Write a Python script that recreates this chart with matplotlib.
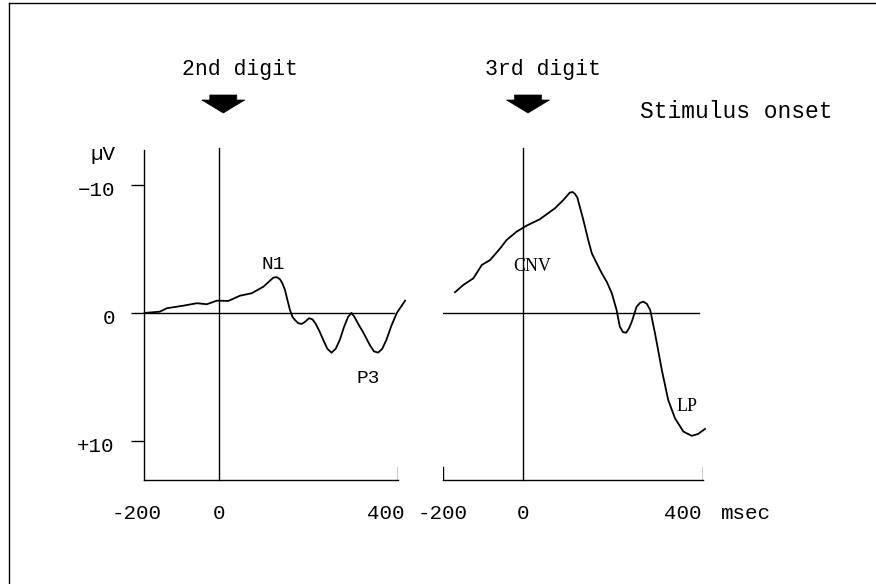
import matplotlib
matplotlib.use('Agg')
import matplotlib.pyplot as plt
from matplotlib.transforms import blended_transform_factory, ScaledTranslation
from matplotlib.patches import Polygon
from matplotlib.lines import Line2D

# ---------------- data ----------------
t_2nd = [-180, -143, -126, -86, -54, -30, -6, 22, 50, 78, 106, 118, 130, 138, 146,
         152, 158, 164, 170, 176, 182, 190, 198, 206, 216, 224, 232, 242, 250, 260,
         270, 280, 290, 300, 310, 318, 325, 335, 346, 354, 362, 372, 382, 392, 402,
         414, 427, 447]
v_2nd = [0.0, -0.1, -0.37, -0.57, -0.76, -0.68, -0.96, -0.94, -1.35, -1.54, -2.05,
         -2.4, -2.76, -2.8, -2.63, -2.3, -1.8, -1.0, -0.23, 0.3, 0.55, 0.8, 0.86,
         0.7, 0.41, 0.5, 0.85, 1.5, 2.1, 2.8, 3.1, 2.8, 2.1, 1.1, 0.3, 0.0, 0.3,
         0.9, 1.5, 2.0, 2.5, 3.0, 3.1, 2.8, 2.1, 1.0, 0.0, -0.96]

t_3rd = [-170, -149, -124, -103, -82, -57, -41, -16, 9, 42, 80, 101, 117, 124, 130,
         136, 142, 148, 155, 163, 172, 184, 197, 210, 222, 234, 242, 250, 258, 265,
         272, 284, 293, 301, 310, 318, 330, 347, 363, 380, 401, 422, 438, 455]
v_3rd = [-1.62, -2.19, -2.71, -3.75, -4.14, -5.05, -5.70, -6.35, -6.82, -7.32,
         -8.18, -8.83, -9.40, -9.45, -9.30, -9.0, -8.30, -7.6, -6.74, -5.7, -4.66,
         -3.9, -3.1, -2.4, -1.54, -0.23, 1.07, 1.5, 1.54, 1.2, 0.68, -0.49, -0.8,
         -0.88, -0.7, -0.23, 1.59, 4.45, 6.8, 8.23, 9.27, 9.6, 9.45, 9.06]

x_ticks = [-200, 0, 400]
x_tick_labels = ['-200', '0', '400']
y_ticks = [-10, 0, 10]
y_tick_labels = ['\u221210', '0', '+10']
stim_labels = ['2nd digit', '3rd digit']
component_labels_2nd = ['N1', 'P3']
component_labels_3rd = ['CNV', 'LP']

# ---------------- layout ----------------
W, H = 876, 584
MONO = 'Liberation Mono'
SERIF = 'Liberation Serif'
fig = plt.figure(figsize=(W / 100, H / 100), dpi=100)
fig.patch.set_facecolor('white')


def rect(x0, x1, ytop, ybot):
    return [x0 / W, 1 - ybot / H, (x1 - x0) / W, (ybot - ytop) / H]


axL = fig.add_axes(rect(144, 398, 150, 480))
axR = fig.add_axes(rect(443, 703, 150, 480))

axL.set_xlim(-181.1, 429.9)
axR.set_xlim(-200, 450)
for ax in (axL, axR):
    ax.set_ylim(13.05, -12.73)
    ax.set_facecolor('none')
    for s in ('top', 'right'):
        ax.spines[s].set_visible(False)
    ax.spines['bottom'].set_linewidth(1.0)
    ax.spines['left'].set_linewidth(1.0)
    ax.set_xticks([])
    ax.axhline(0, color='black', lw=1.0, xmax=0.985)
    ax.axvline(0, color='black', lw=1.0, ymax=1.005, clip_on=False)

axR.spines['left'].set_visible(False)
axR.set_yticks([])

axL.set_yticks(y_ticks, y_tick_labels)
axL.tick_params(axis='y', direction='out', length=9.5, width=1.0, pad=11.5,
                labelsize=15)
for lab in axL.get_yticklabels():
    lab.set_fontfamily(MONO)
    lab.set_transform(lab.get_transform() +
                      ScaledTranslation(0, -4 / 100, fig.dpi_scale_trans))

# end ticks on bottom lines
axL.axvline(axL.get_xlim()[1], ymin=0, ymax=0.04, color='black', lw=1.0)
axR.axvline(axR.get_xlim()[0], ymin=0, ymax=0.04, color='black', lw=1.0)
axR.axvline(axR.get_xlim()[1], ymin=0, ymax=0.04, color='black', lw=1.0)

# curves
axL.plot(t_2nd, v_2nd, color='black', lw=1.3, clip_on=False,
         solid_joinstyle='round')
axR.plot(t_3rd, v_3rd, color='black', lw=1.3, clip_on=False,
         solid_joinstyle='round')

# x labels
for ax in (axL, axR):
    tr = blended_transform_factory(ax.transData, ax.transAxes)
    for t, lab in zip(x_ticks, x_tick_labels):
        ax.text(t, -0.103, lab, transform=tr, ha='center', va='center',
                fontsize=15, family=MONO, clip_on=False)
trR = blended_transform_factory(axR.transData, axR.transAxes)
axR.text(495, -0.103, 'msec', transform=trR, ha='left', va='center',
         fontsize=15, family=MONO, clip_on=False)

fig.text(115 / W, 1 - 155 / H, '\u00b5V', ha='right', va='center',
         fontsize=15, family=MONO)

# component labels
axL.text(129, -3.75, component_labels_2nd[0], ha='center', va='center',
         fontsize=14, family=MONO)
axL.text(358, 5.1, component_labels_2nd[1], ha='center', va='center',
         fontsize=14, family=MONO)
axR.text(22, -3.6, component_labels_3rd[0], ha='center', va='center',
         fontsize=13, family=SERIF)
axR.text(410, 7.3, component_labels_3rd[1], ha='center', va='center',
         fontsize=13, family=SERIF)


# stimulus arrows
def block_arrow(ax, offset_px):
    x0, x1 = ax.get_xlim()
    wpx = ax.get_position().width * W
    ppm = wpx / (x1 - x0)
    c = offset_px / ppm
    sw, hw = 13.5 / ppm, 21.5 / ppm
    ytail, yneck, ytip = (480 - 95) / 330, (480 - 100) / 330, (480 - 113) / 330
    verts = [(c - sw, ytail), (c + sw, ytail), (c + sw, yneck), (c + hw, yneck),
             (c, ytip), (c - hw, yneck), (c - sw, yneck)]
    tr = blended_transform_factory(ax.transData, ax.transAxes)
    ax.add_patch(Polygon(verts, closed=True, facecolor='black',
                         edgecolor='black', lw=0.5, transform=tr, clip_on=False))


block_arrow(axL, 4)
block_arrow(axR, 5)

fig.text(240 / W, 1 - 69 / H, stim_labels[0], ha='center', va='center',
         fontsize=15.5, family=MONO)
fig.text(543 / W, 1 - 69 / H, stim_labels[1], ha='center', va='center',
         fontsize=15.5, family=MONO)
fig.text(640 / W, 1 - 112 / H, 'Stimulus onset', ha='left', va='center',
         fontsize=16.5, family=MONO)

# frame of the scanned figure
fig.add_artist(Line2D([9 / W, 9 / W], [0, 1 - 3 / H], transform=fig.transFigure,
                      color='black', lw=1.0))
fig.add_artist(Line2D([9 / W, 1], [1 - 3 / H, 1 - 3 / H],
                      transform=fig.transFigure, color='black', lw=1.0))

fig.savefig('out.png', dpi=100, facecolor='white')
